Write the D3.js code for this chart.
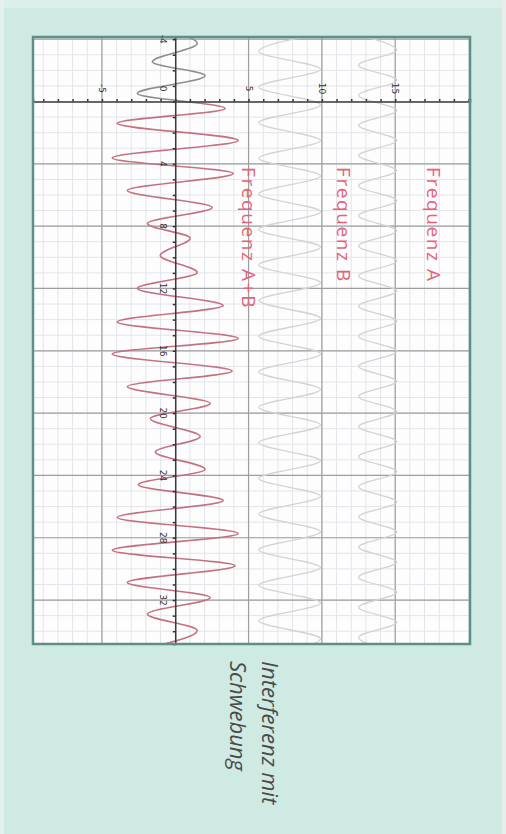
<!DOCTYPE html>
<html>
<head>
<meta charset="utf-8">
<script src="https://cdn.jsdelivr.net/npm/d3@7"></script>
<style>
  body { margin: 0; background: #cfe9e3; }
  svg { display: block; }
</style>
</head>
<body>
<script>
// chart is printed turned by 90 degrees: time runs down, amplitude runs right
var width = 506,
    height = 834;

// extrema: [time, amplitude]
var freqA = [
  [-4.27, 12.5], [-3.30, 15.1], [-2.33, 12.5], [-1.37, 15.1], [-0.40, 12.5],
  [0.57, 15.1], [1.53, 12.5], [2.50, 15.1], [3.47, 12.5], [4.43, 15.1],
  [5.40, 12.5], [6.37, 15.1], [7.33, 12.5], [8.30, 15.1], [9.27, 12.5],
  [10.23, 15.1], [11.20, 12.5], [12.17, 15.1], [13.13, 12.5], [14.10, 15.1],
  [15.06, 12.5], [16.03, 15.1], [17.00, 12.5], [17.96, 15.1], [18.93, 12.5],
  [19.90, 15.1], [20.86, 12.5], [21.83, 15.1], [22.80, 12.5], [23.76, 15.1],
  [24.73, 12.5], [25.70, 15.1], [26.66, 12.5], [27.63, 15.1], [28.60, 12.5],
  [29.56, 15.1], [30.53, 12.5], [31.50, 15.1], [32.46, 12.5], [33.43, 15.1],
  [34.39, 12.5], [35.36, 15.1]
];

var freqB = [
  [-4.35, 9.9], [-3.21, 5.7], [-2.07, 9.9], [-0.93, 5.7], [0.22, 9.9],
  [1.36, 5.7], [2.50, 9.9], [3.64, 5.7], [4.78, 9.9], [5.93, 5.7],
  [7.07, 9.9], [8.21, 5.7], [9.35, 9.9], [10.49, 5.7], [11.64, 9.9],
  [12.78, 5.7], [13.92, 9.9], [15.06, 5.7], [16.20, 9.9], [17.35, 5.7],
  [18.49, 9.9], [19.63, 5.7], [20.77, 9.9], [21.91, 5.7], [23.06, 9.9],
  [24.20, 5.7], [25.34, 9.9], [26.48, 5.7], [27.62, 9.9], [28.77, 5.7],
  [29.91, 9.9], [31.05, 5.7], [32.19, 9.9], [33.33, 5.7], [34.48, 9.9],
  [35.62, 5.7]
];

var freqAB = [
  [-4.75, -1.4], [-3.72, 1.5], [-2.55, -1.56], [-1.65, 2.04], [-0.51, -2.59],
  [0.45, 3.4], [1.40, -3.95], [2.50, 4.29], [3.62, -4.29], [4.62, 3.95],
  [5.71, -3.27], [6.80, 2.52], [7.83, -1.9], [8.78, 1.02], [9.88, -1.02],
  [10.98, 1.5], [12.0, -2.59], [13.1, 3.27], [14.15, -3.95], [15.21, 4.29],
  [16.2, -4.29], [17.3, 3.88], [18.3, -3.27], [19.38, 2.38], [20.35, -1.7],
  [21.5, 1.7], [22.5, -1.36], [23.6, 2.04], [24.6, -2.52], [25.61, 3.27],
  [26.7, -3.95], [27.73, 4.29], [28.8, -4.29], [29.8, 4.08], [30.87, -3.27],
  [31.84, 2.38], [32.9, -1.9], [33.95, 1.5], [34.95, -1.3]
];

var ampTicks = [-5, 5, 10, 15];
var timeTicks = [-4, 4, 8, 12, 16, 20, 24, 28, 32];
var ampMajor = [-5, 5, 10, 15];
var timeMajor = [-4, 4, 8, 12, 16, 20, 24, 28, 32];

var x = d3.scaleLinear().domain([-9.7, 20.1]).range([33, 470]);
var y = d3.scaleLinear().domain([-4.14, 34.82]).range([37, 644]);

var svg = d3.select("body")
            .append("svg")
            .attr("width", width)
            .attr("height", height);

// paper
svg.append("rect").attr("width", width).attr("height", height).attr("fill", "#cfe9e3");
svg.append("rect").attr("x", 0).attr("y", 0).attr("width", width).attr("height", 8).attr("fill", "#dcf0eb");
svg.append("rect").attr("x", 0).attr("y", 0).attr("width", 4).attr("height", height).attr("fill", "#e4f2ef");
svg.append("rect").attr("x", 502).attr("y", 0).attr("width", 4).attr("height", height).attr("fill", "#e6eeec");

svg.append("defs").append("clipPath").attr("id", "plot")
   .append("rect")
   .attr("x", x.range()[0]).attr("y", y.range()[0])
   .attr("width", x.range()[1] - x.range()[0])
   .attr("height", y.range()[1] - y.range()[0]);

svg.select("defs").append("clipPath").attr("id", "neg")
   .append("rect")
   .attr("x", x.range()[0]).attr("y", y.range()[0])
   .attr("width", x.range()[1] - x.range()[0])
   .attr("height", y(0) - y.range()[0]);

svg.select("defs").append("clipPath").attr("id", "pos")
   .append("rect")
   .attr("x", x.range()[0]).attr("y", y(0))
   .attr("width", x.range()[1] - x.range()[0])
   .attr("height", y.range()[1] - y(0));

svg.append("rect")
   .attr("x", x.range()[0]).attr("y", y.range()[0])
   .attr("width", x.range()[1] - x.range()[0])
   .attr("height", y.range()[1] - y.range()[0])
   .attr("fill", "#fdfdfd");

// minor grid
var grid = svg.append("g").attr("clip-path", "url(#plot)");
grid.selectAll("line.mv")
    .data(d3.range(-9, 21))
    .enter()
    .append("line")
    .attr("x1", function(d) { return x(d); })
    .attr("x2", function(d) { return x(d); })
    .attr("y1", y.range()[0]).attr("y2", y.range()[1])
    .attr("stroke", "#e3e5ea").attr("stroke-width", 1);
grid.selectAll("line.mh")
    .data(d3.range(-4, 35))
    .enter()
    .append("line")
    .attr("y1", function(d) { return y(d); })
    .attr("y2", function(d) { return y(d); })
    .attr("x1", x.range()[0]).attr("x2", x.range()[1])
    .attr("stroke", "#e3e5ea").attr("stroke-width", 1);

// major grid
grid.selectAll("line.Mv")
    .data(ampMajor)
    .enter()
    .append("line")
    .attr("x1", function(d) { return x(d); })
    .attr("x2", function(d) { return x(d); })
    .attr("y1", y.range()[0]).attr("y2", y.range()[1])
    .attr("stroke", "#9e9e9e").attr("stroke-width", 1.2);
grid.selectAll("line.Mh")
    .data(timeMajor)
    .enter()
    .append("line")
    .attr("y1", function(d) { return y(d); })
    .attr("y2", function(d) { return y(d); })
    .attr("x1", x.range()[0]).attr("x2", x.range()[1])
    .attr("stroke", "#9e9e9e").attr("stroke-width", 1.2);

// waves
var wave = d3.line()
    .x(function(d) { return x(d[1]); })
    .y(function(d) { return y(d[0]); })
    .curve(d3.curveMonotoneY);

grid.append("path").datum(freqA)
    .attr("d", wave).attr("fill", "none")
    .attr("stroke", "#d3d3d3").attr("stroke-width", 1.3);
grid.append("path").datum(freqB)
    .attr("d", wave).attr("fill", "none")
    .attr("stroke", "#d3d3d3").attr("stroke-width", 1.3);

// axes
svg.append("g")
   .attr("transform", "translate(0," + y(0) + ")")
   .call(d3.axisTop(x).tickValues(d3.range(-9, 21)).tickSize(2.5).tickFormat(""))
   .call(function(g) {
     g.select(".domain").attr("stroke", "#3a3a3a").attr("stroke-width", 1.5);
     g.selectAll(".tick line").attr("stroke", "#333").attr("stroke-width", 1.5);
   });
svg.append("g")
   .attr("transform", "translate(" + x(0) + ",0)")
   .call(d3.axisLeft(y).tickValues(d3.range(-4, 35)).tickSize(2.5).tickFormat(""))
   .call(function(g) {
     g.select(".domain").attr("stroke", "#3a3a3a").attr("stroke-width", 1.5);
     g.selectAll(".tick line").attr("stroke", "#333").attr("stroke-width", 1.5);
   });

// A+B on top of the axis
grid.append("path").datum(freqAB)
    .attr("clip-path", "url(#neg)")
    .attr("d", wave).attr("fill", "none")
    .attr("stroke", "#8e8e8e").attr("stroke-width", 1.6);
grid.append("path").datum(freqAB)
    .attr("clip-path", "url(#pos)")
    .attr("d", wave).attr("fill", "none")
    .attr("stroke", "#c4717f").attr("stroke-width", 1.6);

// frame
svg.append("rect")
   .attr("x", x.range()[0]).attr("y", y.range()[0])
   .attr("width", x.range()[1] - x.range()[0])
   .attr("height", y.range()[1] - y.range()[0])
   .attr("fill", "none")
   .attr("stroke", "#5f8f8a").attr("stroke-width", 2.5);

// tick labels, turned with the picture
svg.selectAll("text.amp")
   .data(ampTicks)
   .enter()
   .append("text")
   .attr("transform", function(d) { return "translate(" + x(d) + "," + (y(0) - 13) + ") rotate(90)"; })
   .attr("text-anchor", "middle")
   .attr("dominant-baseline", "central")
   .attr("font-family", "DejaVu Sans, sans-serif")
   .attr("font-size", "9px")
   .attr("fill", "#333")
   .text(function(d) { return d; });

svg.selectAll("text.time")
   .data(timeTicks)
   .enter()
   .append("text")
   .attr("transform", function(d) { return "translate(" + (x(0) - 12) + "," + y(d) + ") rotate(90)"; })
   .attr("text-anchor", "middle")
   .attr("dominant-baseline", "central")
   .attr("font-family", "DejaVu Sans, sans-serif")
   .attr("font-size", "9px")
   .attr("fill", "#333")
   .text(function(d) { return d; });

svg.append("text")
   .attr("transform", "translate(" + (x(0) - 12) + "," + (y(0) - 13) + ") rotate(90)")
   .attr("text-anchor", "middle")
   .attr("dominant-baseline", "central")
   .attr("font-family", "DejaVu Sans, sans-serif")
   .attr("font-size", "9px")
   .attr("fill", "#333")
   .text("0");

// series names
var names = [
  { label: "Frequenz A", at: 427 },
  { label: "Frequenz B", at: 337 },
  { label: "Frequenz A+B", at: 242 }
];
svg.selectAll("text.name")
   .data(names)
   .enter()
   .append("text")
   .attr("transform", function(d) { return "translate(" + d.at + ",167) rotate(90)"; })
   .attr("font-family", "Open Sans, sans-serif")
   .attr("font-size", "19px")
   .attr("letter-spacing", "1.6px")
   .attr("fill", "#e4637a")
   .text(function(d) { return d.label; });

// caption
var caption = ["Interferenz mit", "Schwebung"];
svg.selectAll("text.cap")
   .data(caption)
   .enter()
   .append("text")
   .attr("transform", function(d, i) { return "translate(" + (262 - i * 32) + ",661) rotate(90)"; })
   .attr("font-family", "Open Sans, sans-serif")
   .attr("font-style", "italic")
   .attr("font-size", "22px")
   .attr("fill", "#4a4a4a")
   .text(function(d) { return d; });
</script>
</body>
</html>
